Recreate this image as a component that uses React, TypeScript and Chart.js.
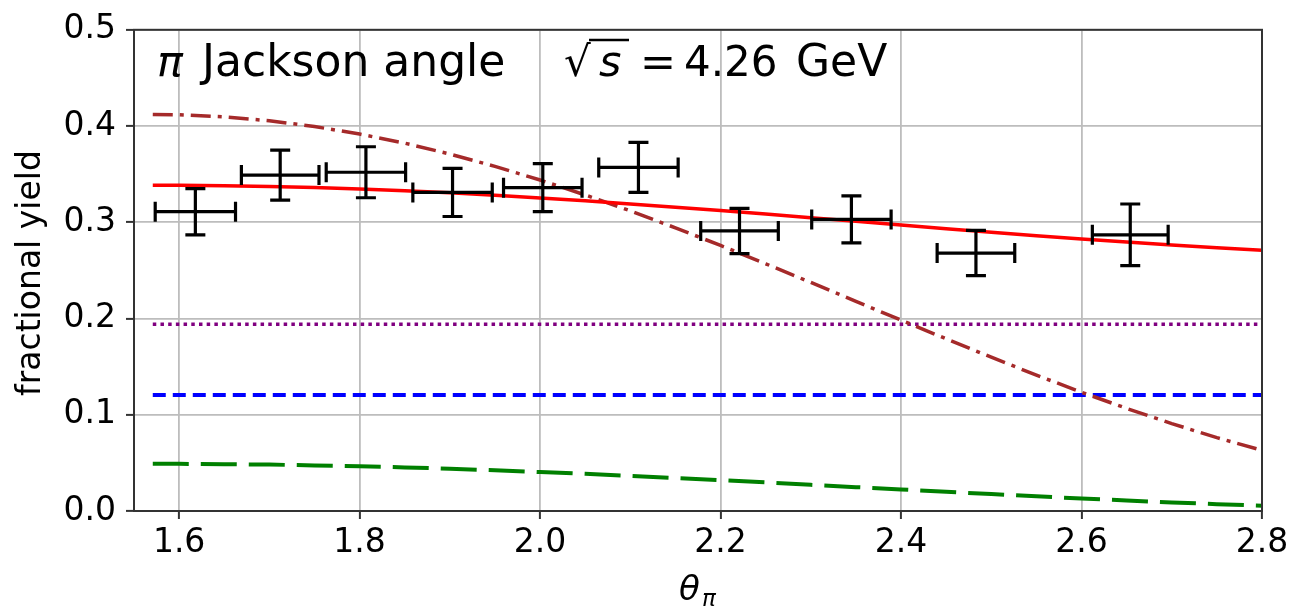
import React, { useEffect, useRef } from "react";
import { Chart, registerables } from "chart.js";
Chart.register(...registerables);

// ---- axis ticks ----
const xTicks = [1.6, 1.8, 2.0, 2.2, 2.4, 2.6, 2.8];
const yTicks = [0.0, 0.1, 0.2, 0.3, 0.4, 0.5];
const xTickLabels = ["1.6", "1.8", "2.0", "2.2", "2.4", "2.6", "2.8"];
const yTickLabels = ["0.0", "0.1", "0.2", "0.3", "0.4", "0.5"];

// ---- curve abscissae ----
const thetaGrid = [
  1.5708, 1.6, 1.65, 1.7, 1.75, 1.8, 1.85, 1.9, 1.95, 2.0, 2.05, 2.1, 2.15,
  2.2, 2.25, 2.3, 2.35, 2.4, 2.45, 2.5, 2.55, 2.6, 2.65, 2.7, 2.75, 2.8,
];
// red solid fit
const redFit = [
  0.3385, 0.3384, 0.338, 0.3372, 0.3361, 0.3346, 0.3327, 0.3306, 0.3281,
  0.3253, 0.3223, 0.3191, 0.3157, 0.3122, 0.3085, 0.3048, 0.301, 0.2972,
  0.2934, 0.2897, 0.2861, 0.2827, 0.2794, 0.2764, 0.2736, 0.271,
];
// brown dash-dot
const brownCurve = [
  0.412, 0.4117, 0.4095, 0.4055, 0.3995, 0.3917, 0.3822, 0.3709, 0.3581,
  0.3439, 0.3284, 0.3119, 0.2942, 0.2759, 0.2569, 0.2375, 0.2179, 0.1983,
  0.1789, 0.1598, 0.1412, 0.1234, 0.1066, 0.0908, 0.0762, 0.0631,
];
// green long dashed
const greenCurve = [
  0.049, 0.049, 0.0487, 0.0482, 0.0474, 0.0465, 0.0453, 0.0439, 0.0423,
  0.0405, 0.0386, 0.0365, 0.0343, 0.032, 0.0297, 0.0272, 0.0248, 0.0224,
  0.0199, 0.0176, 0.0152, 0.013, 0.0109, 0.0089, 0.0071, 0.0055,
];
// flat components
const flatX = [1.5708, 2.8];
const purpleFlat = [0.194, 0.194];
const blueFlat = [0.1206, 0.1206];

// ---- measured data points ----
const dataX = [1.618, 1.712, 1.807, 1.903, 2.003, 2.109, 2.221, 2.345, 2.483, 2.654];
const dataY = [0.311, 0.349, 0.352, 0.331, 0.336, 0.357, 0.291, 0.303, 0.268, 0.287];
const dataXErr = [0.0445, 0.043, 0.044, 0.044, 0.0435, 0.044, 0.043, 0.044, 0.043, 0.042];
const dataYErr = [0.024, 0.026, 0.0265, 0.025, 0.025, 0.026, 0.0235, 0.0245, 0.0235, 0.032];

const FONT = "'DejaVu Sans', sans-serif";

const pts = (xs: number[], ys: number[]) => xs.map((x, i) => ({ x, y: ys[i] }));

const errorBarPlugin = {
  id: "errbars",
  afterDatasetsDraw(chart: any) {
    const { ctx, scales } = chart;
    const xs = scales.x;
    const ys = scales.y;
    const cap = 10;
    ctx.save();
    ctx.strokeStyle = "#000";
    ctx.lineWidth = 3.2;
    ctx.lineCap = "butt";
    for (let i = 0; i < dataX.length; i++) {
      const px = xs.getPixelForValue(dataX[i]);
      const py = ys.getPixelForValue(dataY[i]);
      const x0 = xs.getPixelForValue(dataX[i] - dataXErr[i]);
      const x1 = xs.getPixelForValue(dataX[i] + dataXErr[i]);
      const y0 = ys.getPixelForValue(dataY[i] + dataYErr[i]);
      const y1 = ys.getPixelForValue(dataY[i] - dataYErr[i]);
      ctx.beginPath();
      ctx.moveTo(x0, py);
      ctx.lineTo(x1, py);
      ctx.moveTo(px, y0);
      ctx.lineTo(px, y1);
      ctx.moveTo(x0, py - cap);
      ctx.lineTo(x0, py + cap);
      ctx.moveTo(x1, py - cap);
      ctx.lineTo(x1, py + cap);
      ctx.moveTo(px - cap, y0);
      ctx.lineTo(px + cap, y0);
      ctx.moveTo(px - cap, y1);
      ctx.lineTo(px + cap, y1);
      ctx.stroke();
    }
    // frame
    const a = chart.chartArea;
    ctx.strokeStyle = "#333";
    ctx.lineWidth = 2;
    ctx.strokeRect(a.left, a.top, a.right - a.left, a.bottom - a.top);
    ctx.restore();
  },
};

const textPlugin = {
  id: "texts",
  afterDraw(chart: any) {
    const { ctx } = chart;
    ctx.save();
    ctx.fillStyle = "#000";
    ctx.textBaseline = "alphabetic";
    ctx.textAlign = "left";
    // annotation
    ctx.font = `italic 43px ${FONT}`;
    ctx.fillText("π", 157, 76);
    ctx.font = `44px ${FONT}`;
    ctx.fillText("Jackson angle", 202, 76);
    // sqrt(s)
    ctx.font = `42px ${FONT}`;
    ctx.fillText("√", 564, 76);
    ctx.strokeStyle = "#000";
    ctx.lineWidth = 2.5;
    ctx.beginPath();
    ctx.moveTo(589, 40);
    ctx.lineTo(629, 40);
    ctx.stroke();
    ctx.font = `italic 43px ${FONT}`;
    ctx.fillText("s", 599, 76);
    ctx.font = `43px ${FONT}`;
    ctx.fillText("=", 640, 76);
    ctx.font = `42px ${FONT}`;
    ctx.fillText("4.26", 684, 76);
    ctx.font = `44px ${FONT}`;
    ctx.fillText("GeV", 796, 76);
    // y title
    ctx.save();
    ctx.translate(31, 273);
    ctx.rotate(-Math.PI / 2);
    ctx.textAlign = "center";
    ctx.textBaseline = "middle";
    ctx.font = `33px ${FONT}`;
    ctx.fillText("fractional yield", 0, 0);
    ctx.restore();
    // x title
    ctx.font = `italic 34px ${FONT}`;
    ctx.fillText("θ", 679, 600);
    ctx.font = `italic 23px ${FONT}`;
    ctx.fillText("π", 702, 606);
    ctx.restore();
  },
};

export default function App() {
  const ref = useRef<HTMLCanvasElement>(null);
  useEffect(() => {
    const canvas = ref.current;
    if (!canvas) return;
    const chart = new Chart(canvas, {
      type: "line",
      data: {
        datasets: [
          {
            label: "fit",
            data: pts(thetaGrid, redFit),
            borderColor: "#ff0000",
            borderWidth: 3.5,
            pointRadius: 0,
            fill: false,
            tension: 0,
          },
          {
            label: "brown",
            data: pts(thetaGrid, brownCurve),
            borderColor: "#a52a2a",
            borderWidth: 3.5,
            borderDash: [20, 7, 4, 7],
            pointRadius: 0,
            fill: false,
            tension: 0,
          },
          {
            label: "purple",
            data: pts(flatX, purpleFlat),
            borderColor: "#800080",
            borderWidth: 3.5,
            borderDash: [3.5, 4.2],
            pointRadius: 0,
            fill: false,
          },
          {
            label: "blue",
            data: pts(flatX, blueFlat),
            borderColor: "#0000ff",
            borderWidth: 4,
            borderDash: [13, 7],
            pointRadius: 0,
            fill: false,
          },
          {
            label: "green",
            data: pts(thetaGrid, greenCurve),
            borderColor: "#008000",
            borderWidth: 4,
            borderDash: [36, 12],
            pointRadius: 0,
            fill: false,
            tension: 0,
          },
          {
            label: "data",
            data: pts(dataX, dataY),
            showLine: false,
            pointRadius: 0,
            borderColor: "#000",
          },
        ],
      },
      options: {
        animation: false,
        responsive: true,
        maintainAspectRatio: false,
        devicePixelRatio: 1,
        layout: { padding: { top: 27, right: 32, left: 0, bottom: 0 } },
        plugins: {
          legend: { display: false },
          tooltip: { enabled: false },
          title: { display: false },
        },
        scales: {
          x: {
            type: "linear",
            min: 1.55,
            max: 2.8,
            afterFit: (s: any) => {
              s.height = 96;
            },
            afterBuildTicks: (s: any) => {
              s.ticks = xTicks.map((v) => ({ value: v }));
            },
            ticks: {
              color: "#000",
              font: { family: FONT, size: 33 },
              padding: 5,
              maxRotation: 0,
              autoSkip: false,
              callback: (v: any) => {
                const i = xTicks.findIndex((t) => Math.abs(t - v) < 1e-6);
                return i >= 0 ? xTickLabels[i] : "";
              },
            },
            grid: {
              color: "#bdbdbd",
              lineWidth: 1.8,
              tickColor: "#333",
              tickWidth: 2,
              tickLength: 8,
              drawTicks: true,
            },
            border: { color: "#333", width: 2 },
          },
          y: {
            type: "linear",
            min: 0,
            max: 0.5,
            afterFit: (s: any) => {
              s.width = 134;
            },
            afterBuildTicks: (s: any) => {
              s.ticks = yTicks.map((v) => ({ value: v }));
            },
            ticks: {
              color: "#000",
              font: { family: FONT, size: 33 },
              padding: 10,
              autoSkip: false,
              callback: (v: any) => {
                const i = yTicks.findIndex((t) => Math.abs(t - v) < 1e-6);
                return i >= 0 ? yTickLabels[i] : "";
              },
            },
            grid: {
              color: "#bdbdbd",
              lineWidth: 1.8,
              tickColor: "#333",
              tickWidth: 2,
              tickLength: 8,
              drawTicks: true,
            },
            border: { color: "#333", width: 2 },
          },
        },
      },
      plugins: [errorBarPlugin, textPlugin],
    });
    return () => chart.destroy();
  }, []);
  return (
    <div
      style={{
        position: "absolute",
        left: 0,
        top: 0,
        width: 1294,
        height: 607,
        background: "#fff",
      }}
    >
      <canvas ref={ref} />
    </div>
  );
}
